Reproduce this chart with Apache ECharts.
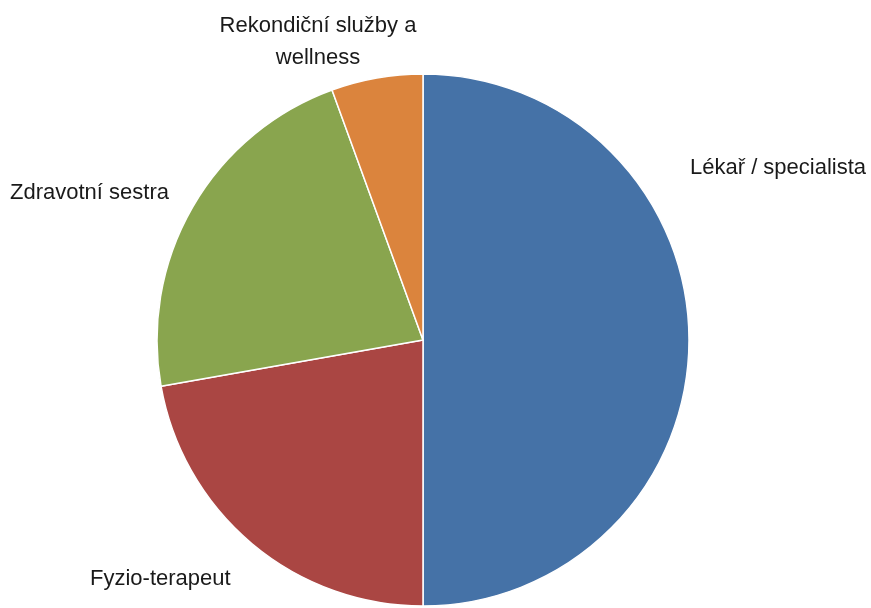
<!DOCTYPE html>
<html>
<head>
<meta charset="utf-8">
<script src="https://cdn.jsdelivr.net/npm/echarts@6/dist/echarts.min.js"></script>
<style>
  html, body { margin: 0; padding: 0; background: #fff; }
  #chart { width: 871px; height: 608px; }
</style>
</head>
<body>
<div id="chart"></div>
<script>
// kategorie a hodnoty (po směru hodinových ručiček od 12 h)
const categories = ["Lékař / specialista", "Fyzio-terapeut", "Zdravotní sestra", "Rekondiční služby a\nwellness"];
const values = [9, 4, 4, 1];
const colors = ["#4572A7", "#AA4643", "#89A54E", "#DB843D"];

// umístění popisků jako v původním grafu
const labelPos = [
  { x: 690, y: 168, align: "left" },
  { x: 90, y: 579, align: "left" },
  { x: 10, y: 193, align: "left" },
  { x: 318, y: 42, align: "center" },
];

const chart = echarts.init(document.getElementById("chart"));
let option = {
  animation: false,
  series: [
    {
      type: "pie",
      center: [423, 340],
      radius: 266,
      startAngle: 90,
      clockwise: true,
      itemStyle: {
        borderColor: "#fff",
        borderWidth: 1.5,
      },
      label: {
        show: true,
        position: "outside",
        color: "#1a1a1a",
        fontFamily: "Liberation Sans, Arial, sans-serif",
        fontSize: 22,
        lineHeight: 32,
        overflow: "none",
      },
      labelLine: { show: false },
      labelLayout: (params) => {
        const p = labelPos[params.dataIndex];
        return { x: p.x, y: p.y, align: p.align, verticalAlign: "middle" };
      },
      emphasis: { disabled: true },
      data: categories.map((name, i) => ({
        name: name,
        value: values[i],
        itemStyle: { color: colors[i] },
      })),
    },
  ],
};
chart.setOption(option, true);
</script>
</body>
</html>
